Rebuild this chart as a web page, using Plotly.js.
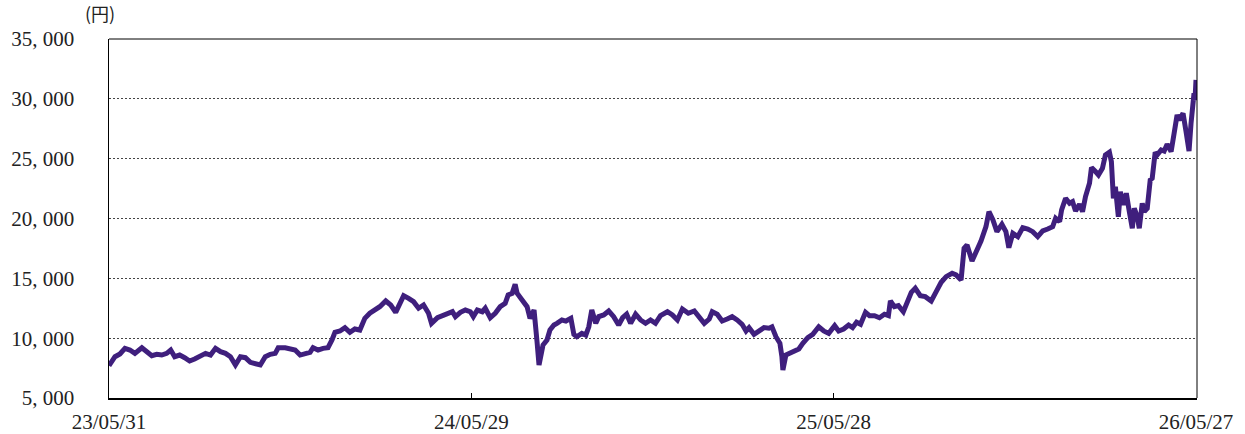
<!DOCTYPE html>
<html>
<head>
<meta charset="utf-8">
<script src="https://cdn.plot.ly/plotly-3.0.1.min.js"></script>
<style>html,body{margin:0;padding:0;background:#fff;}#chart{width:1245px;height:434px;}</style>
</head>
<body>
<div id="chart"></div>
<script>
// Days elapsed since 2023-05-31 for each sampled point
const dayOffsets = [
  0,6,11,16,21,26,33,38,43,48,53,58,62,66,71,76,81,86,92,97,102,107,112,117,122,127,132,137,142,147,152,157,162,167,170,177,
  182,187,192,197,202,205,210,215,220,224,227,232,237,242,247,252,257,262,267,272,278,283,288,293,296,301,306,311,316,321,324,330,335,340,345,348,353,358,363,
  366,370,375,378,383,388,393,398,401,405,408,410,415,420,423,427,430,432,436,440,443,447,450,455,459,464,467,470,475,479,482,485,489,492,497,502,507,512,516,520,524,529,534,539,
  544,549,554,561,566,571,576,582,588,592,598,603,606,611,616,621,626,631,636,640,643,648,653,658,663,666,670,674,676,677,680,683,688,693,697,702,707,713,718,723,
  729,733,738,743,747,751,755,760,764,769,774,779,783,785,789,793,798,802,806,810,815,820,826,831,836,841,847,851,856,859,862,867,872,876,881,884,888,892,897,901,904,
  908,913,918,923,928,933,938,943,948,951,955,957,961,965,968,971,975,978,981,985,987,991,994,998,1001,1005,1007,1009,1011,1014,1016,1019,1022,1025,1028,1030,1033,1035,1038,1040,1043,1046,1048,1051,1053,1057,1060,1063,1067,1070,1073,1075,1079,1082,1085,1087,1089,1090,1091,1092
];
// Price (yen)
const prices = [
  7700,8450,8680,9150,9010,8730,9200,8870,8530,8650,8590,8730,9010,8450,8590,8370,8090,8260,8530,8730,8590,9150,8870,8730,8450,7760,8450,8370,7980,7820,7760,8450,8650,8730,9200,9200,
  9150,9010,8590,8730,8820,9200,9010,9150,9200,9850,10490,10600,10880,10490,10770,10680,11660,12080,12350,12630,13110,12770,12160,12910,13550,13330,13050,12500,12770,12080,11240,11710,11880,11940,12210,11800,12160,12350,12210,
  11800,12350,12210,12500,11710,12080,12630,12910,13610,13750,14500,13750,13190,12630,11660,12350,9710,7760,9430,9850,10680,11100,11240,11520,11430,11660,10320,10120,10400,10260,10950,12350,11240,11800,11940,12270,11800,11100,11710,12000,11240,12000,11520,11240,
  11520,11240,11880,12210,11940,11520,12440,12080,12270,11800,11240,11600,12210,12000,11430,11600,11800,11520,11160,10600,10880,10320,10540,10880,10830,10950,10120,9570,8450,7340,8590,8730,8930,9100,9570,10040,10320,10950,10600,10400,
  11040,10600,10770,11100,10880,11330,11160,12160,11880,11880,11710,12000,11880,13110,12630,12720,12210,13050,13830,14170,13550,13470,13110,13890,14670,15140,15420,15280,14860,17510,17790,16450,17370,18120,19320,20570,19880,18900,19520,18900,17560,
  18760,18480,19240,19120,18900,18480,18960,19120,19320,20020,19740,20720,21690,21270,21410,20630,21190,20570,21830,22950,24250,23920,23640,24200,25310,25540,24750,21690,22660,20150,22240,21130,22110,20570,19180,20850,20150,19180,21270,20570,20850,23220,23360,25540,25310,25730,25640,26200,25590,27120,28650,28230,28790,27260,25640,27950,29760,30460,29900,31580
];
const xTickDates = ['2023-05-31','2024-05-29','2025-05-28','2026-05-27'];
const xTickLabels = ['23/05/31','24/05/29','25/05/28','26/05/27'];
const yTickValues = [5000,10000,15000,20000,25000,30000,35000];
const yTickLabels = ['5, 000','10, 000','15, 000','20, 000','25, 000','30, 000','35, 000'];
const unitLabel = '(円)';

const start = Date.UTC(2023,4,31);
const dates = dayOffsets.map(d => new Date(start + d*86400000).toISOString().slice(0,10));

const serif = '"Liberation Serif", "DejaVu Serif", serif';

Plotly.newPlot('chart', [{
  x: dates, y: prices, type: 'scatter', mode: 'lines',
  line: {color: '#3f1f7d', width: 5, shape: 'linear'},
  hoverinfo: 'skip'
}], {
  width: 1245, height: 434,
  margin: {l: 109, r: 48, t: 39, b: 36},
  paper_bgcolor: '#fff', plot_bgcolor: '#fff',
  showlegend: false,
  xaxis: {
    type: 'date', range: ['2023-05-31', '2026-05-28'],
    tickvals: xTickDates, ticktext: xTickLabels,
    ticks: 'inside', ticklen: 5, tickwidth: 1, tickcolor: '#000',
    showgrid: false, zeroline: false,
    showline: true, linecolor: '#000', linewidth: 2, mirror: false,
    tickfont: {family: serif, size: 21, color: '#222'},
    ticklabelstandoff: 4
  },
  yaxis: {
    range: [5000, 35000],
    tickvals: yTickValues, ticktext: yTickLabels,
    ticks: '', showgrid: true, gridcolor: '#444', gridwidth: 1, griddash: '2px,2px',
    zeroline: false, showline: true, linecolor: '#000', linewidth: 1.5, mirror: false,
    tickfont: {family: serif, size: 21, color: '#222'},
    ticklabelstandoff: 29
  },
  shapes: [
    {type: 'line', xref: 'paper', yref: 'paper', x0: 1, x1: 1, y0: 0, y1: 1, line: {color: '#000', width: 1}},
    {type: 'line', xref: 'paper', yref: 'paper', x0: 0, x1: 1, y0: 1, y1: 1, line: {color: '#000', width: 1}}
  ],
  annotations: [{
    xref: 'paper', yref: 'paper', x: 0, y: 1, xshift: -9, yshift: 26,
    xanchor: 'center', yanchor: 'middle', showarrow: false,
    text: unitLabel, font: {family: '"Noto Sans CJK JP", sans-serif', size: 18, color: '#222'}
  }]
}, {staticPlot: true, displayModeBar: false});
</script>
</body>
</html>
